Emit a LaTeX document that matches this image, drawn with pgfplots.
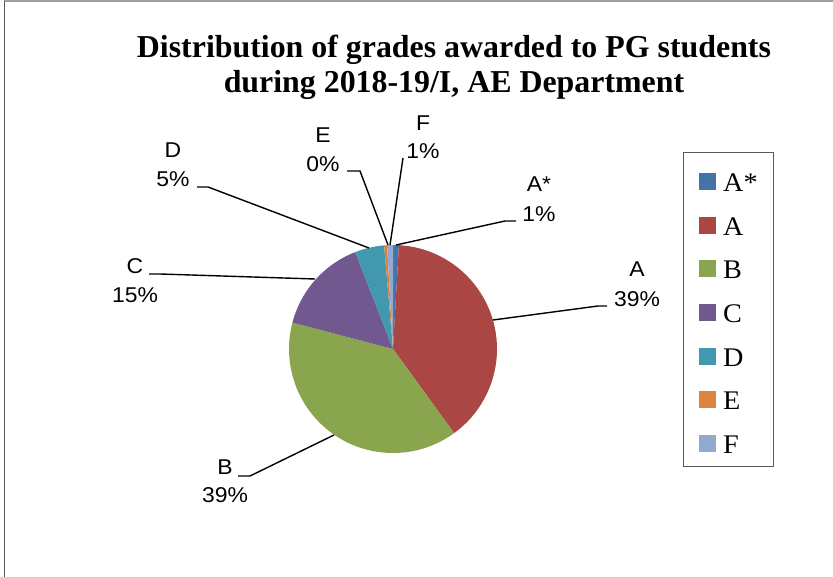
\documentclass[border=0pt]{standalone}
\usepackage{pgfplots}
\pgfplotsset{compat=1.18}
\usepackage{pgfplotstable}
\usepackage{fontspec}
\setmainfont{Liberation Serif}
\newfontfamily\labelfont[FakeStretch=1.07]{Liberation Sans}
\newfontfamily\legfont[FakeStretch=1.05]{Liberation Serif}

% Excel 2007 pie colours
\definecolor{cAs}{HTML}{4572A7}
\definecolor{cA}{HTML}{AA4643}
\definecolor{cB}{HTML}{89A54E}
\definecolor{cC}{HTML}{71588F}
\definecolor{cD}{HTML}{4198AF}
\definecolor{cE}{HTML}{DB843D}
\definecolor{cF}{HTML}{93A9CF}

% number of students per grade
\pgfplotstableread{
grade count color
A*    2     cAs
A     86    cA
B     86    cB
C     33    cC
D     10    cD
E     1     cE
F     2     cF
}\grades

% two-line slice label: x, baseline 1, baseline 2, name, percent
\newcommand\slicelabel[5]{%
  \node[anchor=base, inner sep=0pt] at (axis cs:#1,#2) {#4};
  \node[anchor=base, inner sep=0pt] at (axis cs:#1,#3) {#5};
}

\begin{document}
\begin{tikzpicture}
\begin{axis}[
  scale only axis, width=833bp, height=577bp,
  xmin=0, xmax=833, ymin=0, ymax=577,
  hide axis, clip=false,
  legend style={
    at={(axis cs:683,425)}, anchor=north west,
    draw=black!65, line width=0.8bp, fill=white,
    inner xsep=16bp, inner ysep=13bp,
    row sep=17.7bp,
    nodes={inner sep=0pt, text height=26bp, text depth=0bp},
    font=\legfont\fontsize{27}{27}\selectfont,
    /tikz/every odd column/.append style={column sep=7bp},
  },
  legend cell align=left,
]
\coordinate (bl) at (axis cs:0,0);
\coordinate (tr) at (axis cs:833,577);

% pie slices, clockwise from 12 o'clock
\pgfplotstablegetrowsof{\grades}
\pgfmathtruncatemacro{\nrows}{\pgfplotsretval-1}
\def\total{0}
\pgfplotsforeachungrouped \i in {0,...,\nrows}{%
  \pgfplotstablegetelem{\i}{count}\of\grades
  \pgfmathsetmacro{\total}{\total+\pgfplotsretval}%
}
\def\cum{0}
\pgfplotsforeachungrouped \i in {0,...,\nrows}{%
  \pgfplotstablegetelem{\i}{count}\of\grades \let\cnt\pgfplotsretval
  \pgfplotstablegetelem{\i}{color}\of\grades \let\col\pgfplotsretval
  \pgfmathsetmacro{\aS}{90-\cum/\total*360}%
  \pgfmathsetmacro{\cum}{\cum+\cnt}%
  \pgfmathsetmacro{\aE}{90-\cum/\total*360}%
  \edef\temp{\noexpand\fill[\col] (axis cs:393,228) -- ++(\aS:104bp)
    arc[start angle=\aS, end angle=\aE, radius=104bp] -- cycle;}%
  \temp
}

\addlegendimage{legend image code/.code={\fill[cAs] (0bp,-11bp) rectangle (16bp,5bp);}}
\addlegendentry{A*}
\addlegendimage{legend image code/.code={\fill[cA] (0bp,-11bp) rectangle (16bp,5bp);}}
\addlegendentry{A}
\addlegendimage{legend image code/.code={\fill[cB] (0bp,-11bp) rectangle (16bp,5bp);}}
\addlegendentry{B}
\addlegendimage{legend image code/.code={\fill[cC] (0bp,-11bp) rectangle (16bp,5bp);}}
\addlegendentry{C}
\addlegendimage{legend image code/.code={\fill[cD] (0bp,-11bp) rectangle (16bp,5bp);}}
\addlegendentry{D}
\addlegendimage{legend image code/.code={\fill[cE] (0bp,-11bp) rectangle (16bp,5bp);}}
\addlegendentry{E}
\addlegendimage{legend image code/.code={\fill[cF] (0bp,-11bp) rectangle (16bp,5bp);}}
\addlegendentry{F}

% leader lines
\draw[line width=1.4bp] (axis cs:396,332) -- (axis cs:505,356) -- (axis cs:516,356);
\draw[line width=1.4bp] (axis cs:493,257) -- (axis cs:598,271) -- (axis cs:607,271);
\draw[line width=1.4bp] (axis cs:334,142) -- (axis cs:250,101) -- (axis cs:238,101);
\draw[line width=1.4bp] (axis cs:315,298) -- (axis cs:160,303) -- (axis cs:149,303);
\draw[line width=1.4bp] (axis cs:369,329) -- (axis cs:208,390) -- (axis cs:197,390);
\draw[line width=1.4bp] (axis cs:388,332) -- (axis cs:360,406) -- (axis cs:347,406);
\draw[line width=1.4bp] (axis cs:390,332) -- (axis cs:403,419);

% slice labels
\begin{scope}[font=\labelfont\fontsize{21.5}{21.5}\selectfont]
\slicelabel{539}{385}{355}{A*}{1\%}
\slicelabel{637}{300}{270}{A}{39\%}
\slicelabel{225}{102}{74}{B}{39\%}
\slicelabel{135}{303}{274}{C}{15\%}
\slicelabel{173}{419}{390}{D}{5\%}
\slicelabel{323}{434}{405}{E}{0\%}
\slicelabel{423}{446}{418}{F}{1\%}
\end{scope}

% title
\node[anchor=base, font=\bfseries\fontsize{32}{35}\selectfont]
  at (axis cs:454,519) {Distribution of grades awarded to PG students};
\node[anchor=base, font=\bfseries\fontsize{32}{35}\selectfont]
  at (axis cs:454,484) {during 2018-19/I, AE Department};

% chart frame
\draw[gray!75, line width=2bp] (axis cs:4,575.5) -- (axis cs:833,575.5);
\draw[black!65, line width=1bp] (axis cs:4,576) -- (axis cs:4,0);
\end{axis}
\pgfresetboundingbox
\useasboundingbox (bl) rectangle (tr);
\end{tikzpicture}
\end{document}
